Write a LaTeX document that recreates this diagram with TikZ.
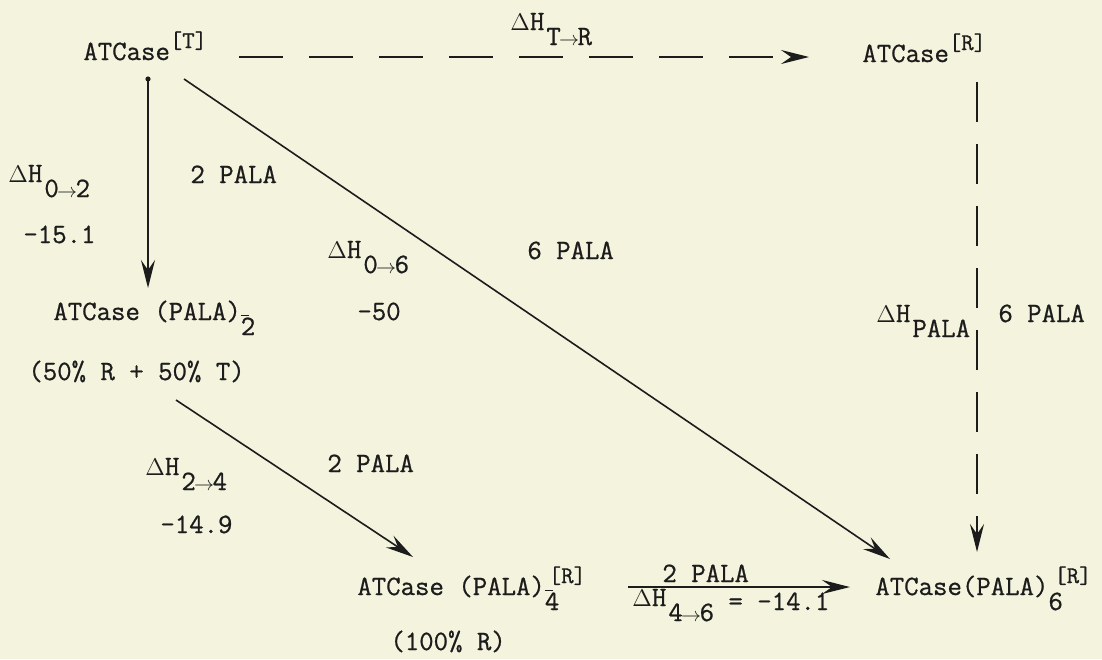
\documentclass[tikz,border=0pt]{standalone}
\usepackage{fontspec}
\newfontfamily\atfont{Latin Modern Mono}[FakeBold=0.8]
\usetikzlibrary{arrows.meta}
\definecolor{paper}{RGB}{244,244,222}
\definecolor{ink}{RGB}{28,28,28}
\newcommand\atup[1]{\raisebox{6pt}{\fontsize{12}{12}\selectfont #1}}
\newcommand\atdn[1]{\raisebox{-7.5pt}{#1}}
\newcommand\tickd[1]{\raisebox{-7.5pt}{\rlap{\rule[9.5pt]{4pt}{0.7pt}}#1}}
\newcommand\dH{{\fontsize{12}{12}\selectfont$\Delta$}H\hspace{1pt}}
\newcommand\ra{\makebox[0.6em]{\fontsize{10}{10}\selectfont$\rightarrow$}}
\begin{document}
\begin{tikzpicture}[x=0.5pt, y=-0.5pt,
  lbl/.style={anchor=base west, inner sep=0pt, text=ink, font=\atfont\fontsize{14}{16}\selectfont},
  arr/.style={-{Stealth[length=14pt, width=7pt, inset=5pt]}, line width=0.8pt, draw=ink},
  hdash/.style={dash pattern=on 22pt off 13pt},
  vdash/.style={dash pattern=on 20pt off 11pt}]
\fill[paper] (0,0) rectangle (1102,659);
\useasboundingbox (0,0) rectangle (1102,659);
% states
\node[lbl] (t0) at (83,60) {ATCase\atup{[T]}};
\node[lbl] (r0) at (862,62) {ATCase\atup{[R]}};
\node[lbl] (p2) at (53,320) {ATCase (PALA)\tickd{2}};
\node[lbl] (p2b) at (28,380) {(50\% R + 50\% T)};
\node[lbl] (p4) at (357,595) {ATCase (PALA)\rlap{\tickd{4}}\hspace{2pt}\atup{[R]}};
\node[lbl] (p4b) at (390,650) {(100\% R)};
\node[lbl] (p6) at (875,595) {ATCase(PALA)\rlap{\atdn{6}}\hspace{3pt}\atup{[R]}};
% labels
\node[lbl] (htr) at (510,30) {\dH\atdn{T\ra R}};
\node[lbl] (h02) at (8,182) {\dH\atdn{0\ra2}};
\node[lbl] (v02) at (23,243) {-15.1};
\node[lbl] (n02) at (190,183) {2 PALA};
\node[lbl] (h06) at (327,258) {\dH\atdn{0\ra6}};
\node[lbl] (v06) at (357,320) {-50};
\node[lbl] (n06) at (527,259) {6 PALA};
\node[lbl] (hpa) at (876,322) {\dH\atdn{PALA}};
\node[lbl] (npa) at (998,322) {6 PALA};
\node[lbl] (h24) at (145,475) {\dH\atdn{2\ra4}};
\node[lbl] (v24) at (160,533) {-14.9};
\node[lbl] (n24) at (327,472) {2 PALA};
\node[lbl] (n46) at (662,582) {2 PALA};
\node[lbl] (h46) at (632,606) {\dH\atdn{4\ra6}\raisebox{-2pt}{ = -14.1}};
% ends of connectors
\coordinate (a1) at (239,57);  \coordinate (a2) at (809,57);
\coordinate (b1) at (148,79);  \coordinate (b2) at (148,288);
\coordinate (c1) at (184,79);  \coordinate (c2) at (890,559);
\coordinate (d1) at (176,400); \coordinate (d2) at (413,557);
\coordinate (e1) at (628,587); \coordinate (e2) at (850,587);
\coordinate (f1) at (977,82);  \coordinate (f2) at (977,552);
\draw[arr, hdash] (a1) -- (a2);
\draw[arr] (b1) -- (b2);
\fill[ink] (b1) circle (1.3pt);
\draw[arr] (c1) -- (c2);
\draw[arr] (d1) -- (d2);
\draw[arr] (e1) -- (e2);
\draw[arr, vdash] (f1) -- (f2);
\end{tikzpicture}
\end{document}
